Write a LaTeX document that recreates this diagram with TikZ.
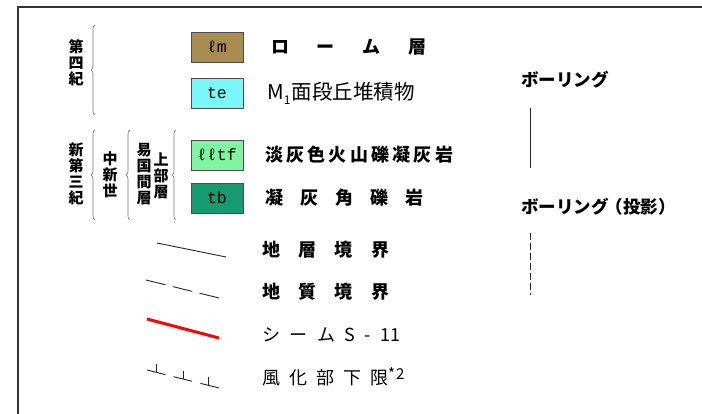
\documentclass[tikz,border=0pt]{standalone}
\usepackage{fontspec}
\newfontfamily\jp{Noto Sans CJK JP}
\newfontfamily\codefont{Liberation Mono}
\usetikzlibrary{decorations.pathreplacing,calc}
\definecolor{lmcol}{HTML}{A88C50}
\definecolor{tecol}{HTML}{7AF8FA}
\definecolor{tfcol}{HTML}{80F5A0}
\definecolor{tbcol}{HTML}{189A70}
\newcommand{\spreadtxt}[2]{\makebox[#1][s]{#2}}
\begin{document}
\begin{tikzpicture}[x=1pt,y=-1pt,
  unitbox/.style={draw=black!70, line width=0.8pt, minimum width=52pt, minimum height=30pt, inner sep=0pt, font=\codefont\fontsize{16.5}{16.5}\selectfont},
  legtext/.style={anchor=west, inner sep=0pt, font=\jp\bfseries\fontsize{18}{18}\selectfont},
  legthin/.style={anchor=west, inner sep=0pt, font=\jp\fontsize{18}{18}\selectfont},
  vtext/.style={inner sep=0pt, align=center, font=\jp\bfseries\fontsize{15}{16}\selectfont},
  era/.style={decorate, decoration={brace, amplitude=4pt}, draw=black!55, line width=0.6pt},
  symline/.style={draw=black!85, line width=0.9pt},
]
\useasboundingbox (0,0) rectangle (702,414);
\draw[line width=1.5pt, black!80] (18,414) -- (18,7) -- (702,7);

% unit boxes
\node[unitbox, fill=lmcol] (lm) at (217,47) {ℓm};
\node[unitbox, fill=tecol] (te) at (217,93) {te};
\node[unitbox, fill=tfcol] (tf) at (217,155) {ℓℓtf};
\node[unitbox, fill=tbcol] (tb) at (217,198) {tb};

% unit labels
\node[legtext] (lmlab) at (271,47) {\spreadtxt{155pt}{ロ\hfill ー\hfill ム\hfill 層}};
\node[legthin, font=\jp\fontsize{20.5}{20.5}\selectfont] (telab) at (267,93) {M\raisebox{-5pt}{\fontsize{12}{12}\selectfont 1}\kern1pt 面段丘堆積物};
\node[legtext] (tflab) at (265,155) {\spreadtxt{188pt}{淡\hfill 灰\hfill 色\hfill 火\hfill 山\hfill 礫\hfill 凝\hfill 灰\hfill 岩}};
\node[legtext] (tblab) at (265,198) {\spreadtxt{158pt}{凝\hfill 灰\hfill 角\hfill 礫\hfill 岩}};

% vertical era texts
\node[vtext] (q) at (76,63) {第\\四\\紀};
\node[vtext] (n) at (76,174) {新\\第\\三\\紀};
\node[vtext] (mio) at (110,175) {中\\新\\世};
\node[vtext] (ok) at (144,174) {易\\国\\間\\層};
\node[vtext] (up) at (161,176) {上\\部\\層};

% braces
\coordinate (qb1) at (95,115); \coordinate (qb2) at (95,25);
\coordinate (nb1) at (95,220); \coordinate (nb2) at (95,130);
\coordinate (mb1) at (130,220); \coordinate (mb2) at (130,130);
\coordinate (ob1) at (176,220); \coordinate (ob2) at (176,130);
\draw[era] (qb1) -- (qb2);
\draw[era] (nb1) -- (nb2);
\draw[era] (mb1) -- (mb2);
\draw[era] (ob1) -- (ob2);

% boring
\node[legtext, font=\jp\bfseries\fontsize{17.5}{17.5}\selectfont] (bor) at (521,80) {ボーリング};
\coordinate (bs1) at (530,108); \coordinate (bs2) at (530,168);
\draw[symline] (bs1) -- (bs2);
\node[legtext, font=\jp\bfseries\fontsize{17.5}{17.5}\selectfont] (borp) at (521,207) {ボーリング\kern-3pt（投影）};
\coordinate (bd1) at (530,233); \coordinate (bd2) at (530,295);
\draw[symline, dash pattern=on 7pt off 3pt] (bd1) -- (bd2);

% line symbols
\coordinate (l1a) at (157,243); \coordinate (l1b) at (226,257);
\draw[symline] (l1a) -- (l1b);
\node[legtext] (l1t) at (262,250) {\spreadtxt{127pt}{地\hfill 層\hfill 境\hfill 界}};

\coordinate (l2a) at (146,280); \coordinate (l2b) at (219,298);
\draw[symline, dash pattern=on 20pt off 7.5pt] (l2a) -- (l2b);
\node[legtext] (l2t) at (262,292) {\spreadtxt{127pt}{地\hfill 質\hfill 境\hfill 界}};

\coordinate (l3a) at (147,319); \coordinate (l3b) at (219,338);
\draw[red, line width=3pt] (l3a) -- (l3b);
\node[legthin] (l3t) at (262,335) {\spreadtxt{138pt}{シ\hfill ー\hfill ム\hfill S\hfill -\hfill 11}};

\coordinate (l4a) at (147,370); \coordinate (l4b) at (219,388);
\draw[symline, dash pattern=on 19pt off 8.5pt] (l4a) -- (l4b);
\foreach \f in {0.13,0.5,0.86}{
  \draw[symline] ($(l4a)!\f!(l4b)$) -- ++(0,-8);
}
\node[legthin] (l4t) at (262,377) {\spreadtxt{126pt}{風\hfill 化\hfill 部\hfill 下\hfill 限}\raisebox{5pt}{\fontsize{15}{15}\selectfont *\kern1pt 2}};
\end{tikzpicture}
\end{document}
